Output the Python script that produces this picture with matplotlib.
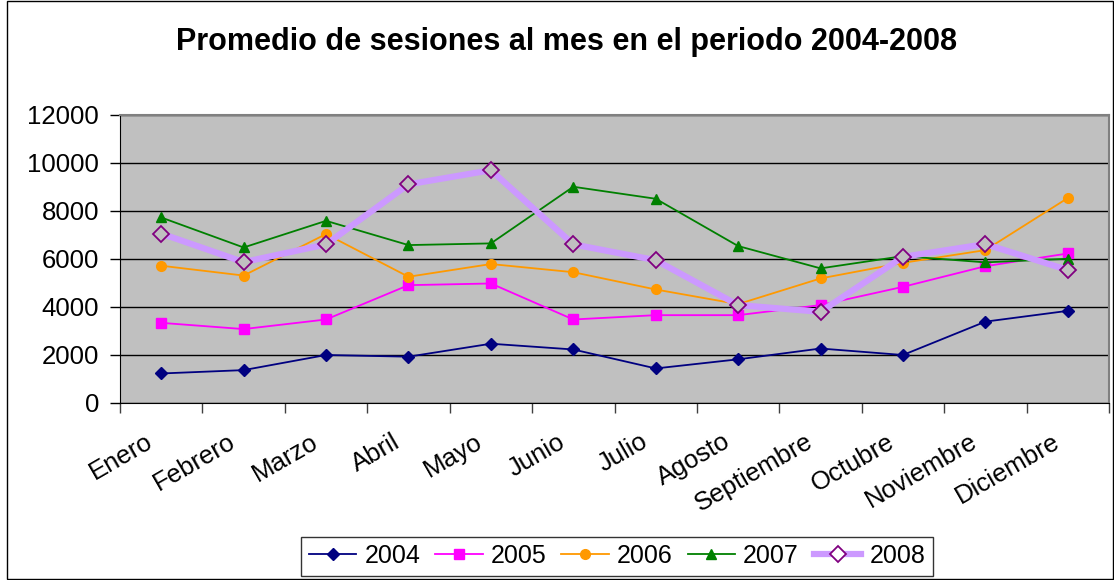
import matplotlib
matplotlib.use("Agg")
import matplotlib.pyplot as plt
from matplotlib.patches import Rectangle
from matplotlib.transforms import ScaledTranslation

# ===== DATA =====
meses = ["Enero", "Febrero", "Marzo", "Abril", "Mayo", "Junio", "Julio",
         "Agosto", "Septiembre", "Octubre", "Noviembre", "Diciembre"]

s2004 = [1230, 1370, 2000, 1930, 2470, 2230, 1440, 1820, 2270, 2000, 3390, 3840]
s2005 = [3340, 3080, 3480, 4910, 4980, 3480, 3660, 3660, 4080, 4840, 5700, 6230]
s2006 = [5720, 5310, 7040, 5260, 5790, 5450, 4730, 4120, 5190, 5840, 6370, 8540]
s2007 = [7730, 6480, 7590, 6580, 6650, 9010, 8510, 6540, 5610, 6120, 5860, 6010]
s2008 = [7060, 5870, 6610, 9110, 9700, 6610, 5950, 4080, 3800, 6090, 6620, 5540]

plt.rcParams["font.family"] = ["Liberation Sans", "DejaVu Sans"]

fig = plt.figure(figsize=(11.14, 5.8), dpi=100)
ax = fig.add_axes([120 / 1114, 1 - 403 / 580, 989 / 1114, 288 / 580])

x = list(range(len(meses)))

ax.plot(x, s2004, color="#000080", lw=1.3, marker="D", ms=6, label="2004", zorder=3)
ax.plot(x, s2005, color="#FF00FF", lw=1.3, marker="s", ms=6.5, label="2005", zorder=3)
ax.plot(x, s2006, color="#FF9900", lw=1.3, marker="o", ms=7, label="2006", zorder=3)
ax.plot(x, s2007, color="#008000", lw=1.3, marker="^", ms=7.5, label="2007", zorder=3)
ax.plot(x, s2008, color="#CC99FF", lw=4.5, marker="D", ms=8.5, mfc="#C0C0C0",
        mec="#800080", mew=1.3, label="2008", zorder=3)

# ===== AXES =====
ax.set_facecolor("#C0C0C0")
ax.set_xlim(-0.5, 11.5)
ax.set_ylim(0, 12000)
ax.set_yticks(range(0, 12001, 2000))
ax.grid(axis="y", color="black", lw=1)
ax.set_axisbelow(True)

ax.set_xticks([i - 0.5 for i in range(13)])
ax.set_xticklabels([])
ax.set_xticks(x, minor=True)
ax.set_xticklabels(meses, minor=True, rotation=30, ha="right", va="top",
                   fontsize=18.5)
ax.tick_params(axis="x", which="minor", length=0, pad=19)
ax.tick_params(axis="x", which="major", direction="out", length=7, width=1, color="#404040")
ax.tick_params(axis="y", direction="out", length=7, width=1, labelsize=18.5, pad=8)

shift = ScaledTranslation(-4 / 100, 0, fig.dpi_scale_trans)
for lbl in ax.get_xticklabels(minor=True):
    lbl.set_transform(lbl.get_transform() + shift)

for side in ["top", "right"]:
    ax.spines[side].set_color("#808080")
    ax.spines[side].set_linewidth(1.5)
ax.spines["left"].set_color("black")
ax.spines["bottom"].set_color("black")

# ===== TITLE =====
fig.text(567 / 1114, 1 - 42 / 580, "Promedio de sesiones al mes en el periodo 2004-2008",
         ha="center", va="center", fontsize=22, fontweight="bold")

# ===== LEGEND =====
leg = ax.legend(loc="center", bbox_to_anchor=(617 / 1114, 1 - 556 / 580),
                bbox_transform=fig.transFigure, ncol=5, fontsize=18,
                frameon=True, fancybox=False, edgecolor="black",
                handlelength=1.9, columnspacing=0.6, handletextpad=0.32,
                borderpad=0.3)
leg.get_frame().set_linewidth(1)
leg.get_lines()[4].set_markerfacecolor("white")

# outer border
fig.patches.append(Rectangle((7 / 1114, 0.002), 1 - 8 / 1114, 0.996,
                             transform=fig.transFigure, fill=False,
                             edgecolor="black", lw=1))

plt.savefig("out.png", dpi=100)
